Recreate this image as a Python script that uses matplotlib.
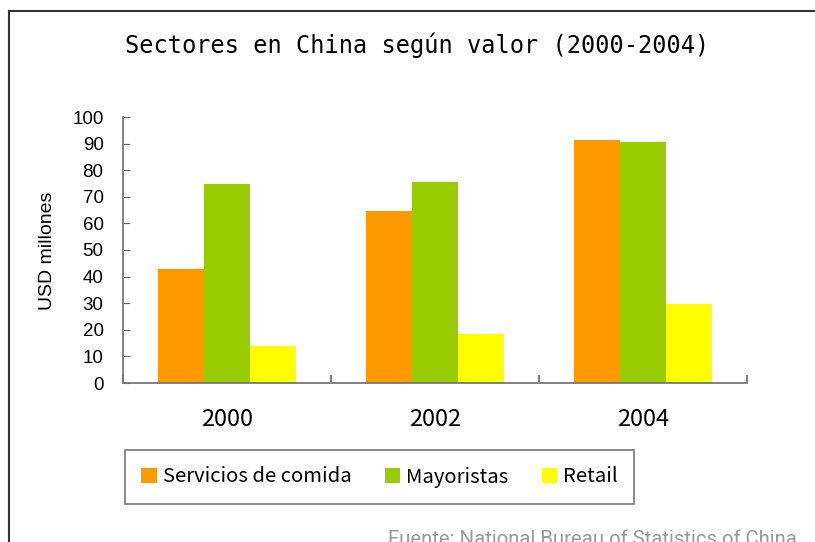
import matplotlib
matplotlib.use("Agg")
import matplotlib.pyplot as plt
from matplotlib.lines import Line2D
import numpy as np

# Data
years = ["2000", "2002", "2004"]
series = ["Servicios de comida", "Mayoristas", "Retail"]
comida = [43, 64.5, 91.5]
mayoristas = [75, 75.7, 90.7]
retail = [14, 18.5, 29.8]
colors = ["#FF9900", "#99CC00", "#FFFF00"]
yticks = list(range(0, 101, 10))

W, H = 815, 542
fig = plt.figure(figsize=(W / 100, H / 100), dpi=100)

# outer chart frame (only top and left edges are visible)
fig.add_artist(Line2D([9 / W, 9 / W], [0, 1 - 11 / H], transform=fig.transFigure, color="#333333", lw=1.5))
fig.add_artist(Line2D([9 / W, 1], [1 - 11 / H, 1 - 11 / H], transform=fig.transFigure, color="#333333", lw=1.5))

ax = fig.add_axes([123 / W, 1 - 383 / H, 624 / W, 266 / H])

x = np.arange(len(years))
bw = 0.222
for i, (vals, c, name) in enumerate(zip([comida, mayoristas, retail], colors, series)):
    ax.bar(x + (i - 1) * bw, vals, width=bw, color=c, label=name, edgecolor="none", zorder=2)

ax.set_xlim(-0.5, 2.5)
ax.set_ylim(0, 100)
ax.set_yticks(yticks)
ax.set_yticklabels([str(v) for v in yticks], fontsize=13.5, family="Liberation Sans")
ax.tick_params(axis="y", direction="in", length=5, color="#666666", pad=14)

ax.set_xticks(x)
ax.set_xticklabels(years, fontsize=17, family="Noto Sans CJK JP")
ax.tick_params(axis="x", which="major", length=0, pad=18)
ax.set_xticks([-0.5, 0.5, 1.5, 2.5], minor=True)
ax.tick_params(axis="x", which="minor", direction="in", length=6, color="#666666", width=1.2)

for s in ["top", "right"]:
    ax.spines[s].set_visible(False)
for s in ["left", "bottom"]:
    ax.spines[s].set_color("#777777")
    ax.spines[s].set_linewidth(1.3)

fig.text(47 / W, 1 - 251 / H, "USD millones", rotation=90, ha="center", va="center",
         fontsize=14, family="Liberation Sans")

fig.text(417 / W, 1 - 45 / H, "Sectores en China según valor (2000-2004)", ha="center", va="center",
         fontsize=17, family="DejaVu Sans Mono")

leg = fig.legend(loc="center", bbox_to_anchor=(379.5 / W, 1 - 477 / H), ncol=3,
                 prop={"family": "Noto Sans CJK JP", "size": 14.6},
                 handlelength=0.75, handleheight=0.75, handletextpad=0.3,
                 columnspacing=1.65, borderpad=0.8, fancybox=False, frameon=True)
leg.get_frame().set_edgecolor("#555555")
leg.get_frame().set_linewidth(1.2)

fig.text(388 / W, 1 - 530 / H, "Fuente: National Bureau of Statistics of China", ha="left", va="top",
         fontsize=14.6, color="#999999", family="Roboto")

fig.savefig("out.png", dpi=100)
